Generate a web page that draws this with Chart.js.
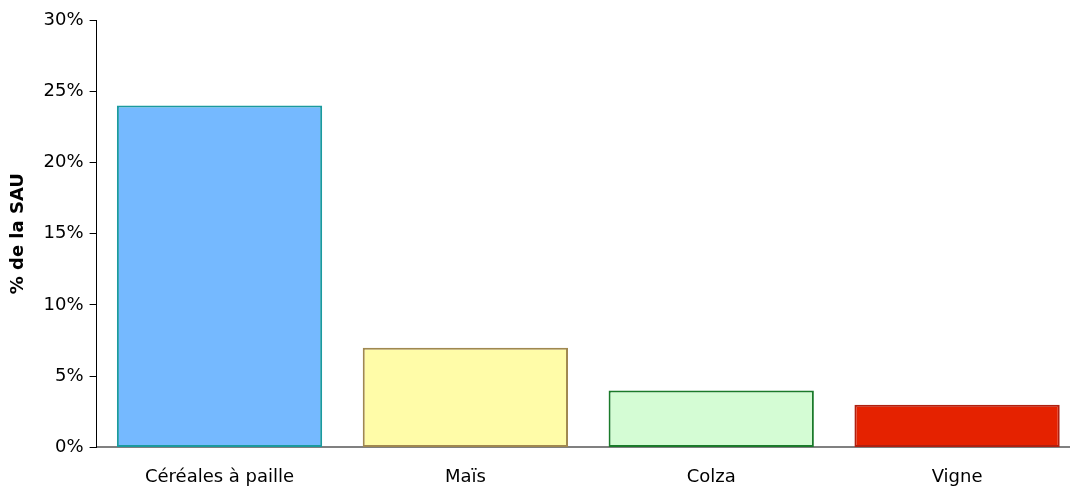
<!DOCTYPE html>
<html>
<head>
<meta charset="utf-8">
<script src="https://cdn.jsdelivr.net/npm/chart.js@4"></script>
<style>
  html, body { margin: 0; padding: 0; background: #fff; overflow: hidden; }
  #wrap { width: 1080px; height: 491px; }
</style>
</head>
<body>
<div id="wrap"><canvas id="chart"></canvas></div>
<script>
// Data
const categories = ["Céréales à paille", "Maïs", "Colza", "Vigne"];
const shareSAU = [24, 7, 4, 3];
const fillColors = ["#75b9ff", "#fffca8", "#d4fcd4", "#e52200"];
const edgeColors = ["#1a9a9e", "#a08850", "#1a7a2a", "#b02010"];

const ctx = document.getElementById("chart").getContext("2d");
new Chart(ctx, {
  type: "bar",
  data: {
    labels: categories,
    datasets: [
      {
        data: shareSAU,
        backgroundColor: fillColors,
        borderColor: edgeColors,
        borderWidth: 2,
        borderSkipped: false,
        categoryPercentage: 1,
        barPercentage: 0.835,
      },
    ],
  },
  options: {
    responsive: true,
    maintainAspectRatio: false,
    animation: false,
    layout: { padding: { top: 20, right: 0, left: 4, bottom: -8 } },
    plugins: {
      legend: { display: false },
      tooltip: { enabled: false },
    },
    scales: {
      x: {
        grid: { display: false },
        border: { color: "#808080", width: 2 },
        ticks: {
          color: "#000",
          padding: 11,
          font: { family: "DejaVu Sans", size: 18 },
        },
      },
      y: {
        min: 0,
        max: 30,
        ticks: {
          stepSize: 5,
          color: "#000",
          padding: 6,
          font: { family: "DejaVu Sans", size: 18 },
          callback: (v) => v + "%",
        },
        grid: {
          drawOnChartArea: false,
          drawTicks: true,
          tickLength: 7,
          color: "#000",
        },
        border: { color: "#000", width: 1 },
        title: {
          display: true,
          text: "% de la SAU",
          color: "#000",
          padding: { bottom: 8 },
          font: { family: "DejaVu Sans", size: 18, weight: "bold" },
        },
      },
    },
  },
});
</script>
</body>
</html>
